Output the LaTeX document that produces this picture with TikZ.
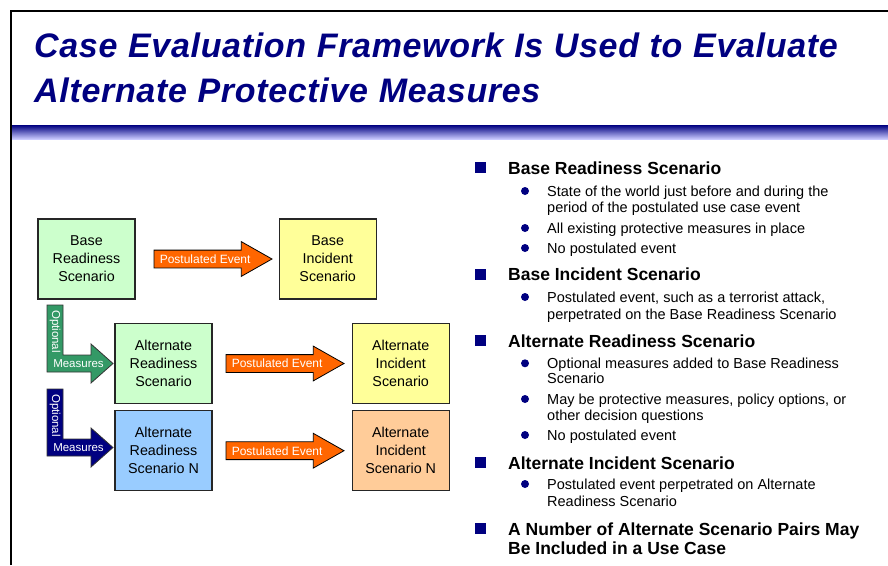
\documentclass[tikz,border=0pt]{standalone}
\usepackage{fontspec}
\setmainfont{Liberation Sans}
\newfontfamily\titlefont[LetterSpace=2,WordSpace=1.05]{Liberation Sans}
\usepackage{tikz}
\definecolor{navyblue}{HTML}{000080}
\definecolor{lavender}{HTML}{CCCCFF}
\definecolor{readygreen}{HTML}{CCFFCC}
\definecolor{readyblue}{HTML}{99CCFF}
\definecolor{incyellow}{HTML}{FFFF99}
\definecolor{incpeach}{HTML}{FFCC99}
\definecolor{eventorange}{HTML}{FF6600}
\definecolor{measgreen}{HTML}{339966}
\usetikzlibrary{shapes.arrows}
\usetikzlibrary{positioning}

\begin{document}
\begin{tikzpicture}[x=1pt,y=-1pt,
    scenario/.style={draw=black!85,line width=1.2pt,minimum width=97pt,minimum height=80pt,
        inner sep=0pt,align=center,font=\fontsize{14.3}{18}\selectfont},
    postev/.style={single arrow,draw=black,line width=0.8pt,fill=eventorange,text=white,
        font=\fontsize{12}{12}\selectfont,text height=8.6pt,text depth=0pt,
        inner xsep=2pt,inner ysep=4.2pt,minimum height=118pt,
        single arrow head extend=8.5pt,single arrow tip angle=59,anchor=tail},
    head/.style={anchor=base west,inner sep=0pt,font=\bfseries\fontsize{17.5}{21}\selectfont},
    item/.style={anchor=base west,inner sep=0pt,font=\fontsize{14.5}{17}\selectfont},
    meas/.style={text=white,inner sep=0pt,font=\fontsize{11.5}{12}\selectfont}
]
\useasboundingbox (0,0) rectangle (888,565);

% frame, title and band
\draw[line width=2pt] (11,565) -- (11,11) -- (888,11);
\node[anchor=base west,inner sep=0pt,text=navyblue,font=\titlefont\bfseries\itshape\fontsize{34}{40}\selectfont]
    (title1) at (34,57) {Case Evaluation Framework Is Used to Evaluate};
\node[anchor=base west,inner sep=0pt,text=navyblue,font=\titlefont\bfseries\itshape\fontsize{34}{40}\selectfont]
    (title2) at (34,102) {Alternate Protective Measures};
\shade[top color=navyblue,bottom color=lavender] (12,125) rectangle (888,139);

% scenarios
\node[scenario,fill=readygreen] (bri) at (86.5,259) {Base\\Readiness\\Scenario};
\node[scenario,fill=incyellow,right=143pt of bri] (bis) {Base\\Incident\\Scenario};
\node[scenario,fill=readygreen] (ari) at (163.5,363.5) {Alternate\\Readiness\\Scenario};
\node[scenario,fill=incyellow,right=139pt of ari] (aii) {Alternate\\Incident\\Scenario};
\node[scenario,fill=readyblue,below=6pt of ari] (arn) {Alternate\\Readiness\\Scenario N};
\node[scenario,fill=incpeach,right=139pt of arn] (ain) {Alternate\\Incident\\Scenario N};

\node[postev] (pe1) at ([xshift=18pt]bri.east) {Postulated Event};
\node[postev] (pe2) at ([xshift=13pt]ari.east) {Postulated Event};
\node[postev] (pe3) at ([xshift=13pt]arn.east) {Postulated Event};

% optional measures
\foreach \dy/\col/\n in {0/measgreen/a,84/navyblue/b}{
    \draw[fill=\col,draw=black!80,line width=0.8pt,shift={(0,\dy)}]
        (47,305) -- (63,305) -- (63,355) -- (91,355) -- (91,344) -- (113,363.5)
        -- (91,383) -- (91,372) -- (47,372) -- cycle;
    \node[meas,rotate=-90] (opt\n) at (55,331.5+\dy) {Optional};
    \node[meas] (mea\n) at (78.5,363.5+\dy) {Measures};
}

% bullet list
\node[head] (h1) at (508,174) {Base Readiness Scenario};
\node[item] (s1a) at (547,196) {State of the world just before and during the};
\node[item] (s1b) at (547,212) {period of the postulated use case event};
\node[item] (s2) at (547,233) {All existing protective measures in place};
\node[item] (s3) at (547,253) {No postulated event};
\node[head] (h2) at (508,280.5) {Base Incident Scenario};
\node[item] (s4a) at (547,302) {Postulated event, such as a terrorist attack,};
\node[item] (s4b) at (547,319) {perpetrated on the Base Readiness Scenario};
\node[head] (h3) at (508,347.3) {Alternate Readiness Scenario};
\node[item] (s5a) at (547,368.3) {Optional measures added to Base Readiness};
\node[item] (s5b) at (547,383.3) {Scenario};
\node[item] (s6a) at (547,404) {May be protective measures, policy options, or};
\node[item] (s6b) at (547,420) {other decision questions};
\node[item] (s7) at (547,440) {No postulated event};
\node[head] (h4) at (508,469) {Alternate Incident Scenario};
\node[item] (s8a) at (547,489) {Postulated event perpetrated on Alternate};
\node[item] (s8b) at (547,506) {Readiness Scenario};
\node[head] (h5a) at (508,535) {A Number of Alternate Scenario Pairs May};
\node[head] (h5b) at (508,554) {Be Included in a Use Case};

\foreach \n in {h1,h2,h3,h4,h5a}
    \fill[navyblue] ([shift={(-33,-12)}]\n.base west) rectangle ([shift={(-22,-1)}]\n.base west);
\foreach \n in {s1a,s2,s3,s4a,s5a,s6a,s7,s8a}
    \fill[navyblue] ([shift={(-22,-5)}]\n.base west) circle[radius=4pt];
\end{tikzpicture}
\end{document}
